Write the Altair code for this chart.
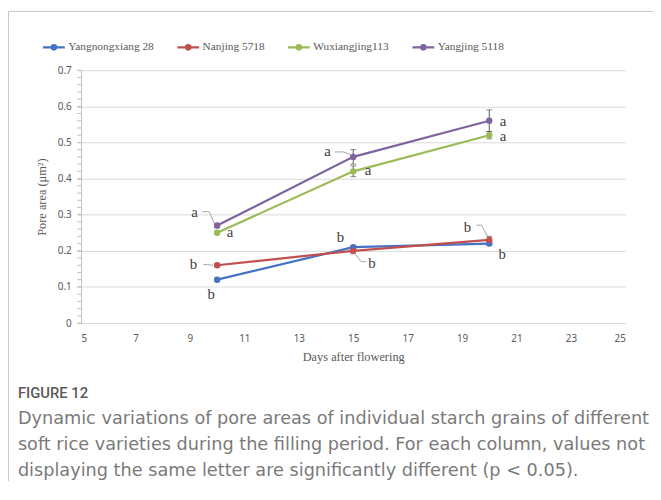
import altair as alt
import pandas as pd

# ---- data ----
varieties = ["Yangnongxiang 28", "Nanjing 5718", "Wuxiangjing113", "Yangjing 5118"]
colors = ["#4472C4", "#C0504D", "#9BBB59", "#8064A2"]
days = [10, 15, 20]
yangnongxiang28 = [0.12, 0.21, 0.22]
nanjing5718 = [0.16, 0.20, 0.23]
wuxiangjing113 = [0.25, 0.42, 0.52]
yangjing5118 = [0.27, 0.46, 0.56]
err_yangnongxiang28 = [0.004, 0.004, 0.005]
err_nanjing5718 = [0.004, 0.008, 0.01]
err_wuxiangjing113 = [0.004, 0.015, 0.01]
err_yangjing5118 = [0.006, 0.02, 0.03]
let_yangnongxiang28 = ["b", "b", "b"]
let_nanjing5718 = ["b", "b", "b"]
let_wuxiangjing113 = ["a", "a", "a"]
let_yangjing5118 = ["a", "a", "a"]
x_ticks = [5, 7, 9, 11, 13, 15, 17, 19, 21, 23, 25]
y_major = [0, 0.1, 0.2, 0.3, 0.4, 0.5, 0.6, 0.7]
y_minor = [round(i * 0.02, 2) for i in range(36)]
x_title = "Days after flowering"
y_title = "Pore area (μm²)"
fig_label = "FIGURE 12"
caption_lines = [
    "Dynamic variations of pore areas of individual starch grains of different",
    "soft rice varieties during the filling period. For each column, values not",
    "displaying the same letter are significantly different (p < 0.05).",
]

vals = [yangnongxiang28, nanjing5718, wuxiangjing113, yangjing5118]
errs = [err_yangnongxiang28, err_nanjing5718, err_wuxiangjing113, err_yangjing5118]
lets = [let_yangnongxiang28, let_nanjing5718, let_wuxiangjing113, let_yangjing5118]
rows = []
for v, vs, es, ls in zip(varieties, vals, errs, lets):
    for d, y, e, l in zip(days, vs, es, ls):
        rows.append({"variety": v, "day": d, "value": y, "lo": y - e, "hi": y + e, "letter": l})
df = pd.DataFrame(rows)

W, H = 551, 256
PL, PT, PR, PB = 74, 60, 28, 160
SERIF = "Liberation Serif"
SANS = "Noto Sans"
GRAY = "#595959"

xs = alt.Scale(domain=[5, 25], nice=False)
ys = alt.Scale(domain=[0, 0.7], nice=False)

xaxis = alt.Axis(values=x_ticks, grid=False, ticks=False, domainColor="#D9D9D9",
                 labelFont=SANS, labelFontSize=10, labelColor=GRAY, labelPadding=11,
                 titleFont=SERIF, titleFontSize=12.5, titleFontWeight="normal",
                 titleColor=GRAY, titlePadding=7)
yaxis = alt.Axis(values=y_major, format=".1~f", tickSize=4, tickColor="#BFBFBF",
                 domainColor="#BFBFBF", grid=True, gridColor="#D9D9D9",
                 labelFont=SANS, labelFontSize=10, labelColor=GRAY, labelPadding=6,
                 titleFont=SERIF, titleFontSize=12.5, titleFontWeight="normal",
                 titleColor=GRAY, titlePadding=9)


def XE(field):
    return alt.X(f"{field}:Q", scale=xs, axis=xaxis, title=x_title)


def YE(field):
    return alt.Y(f"{field}:Q", scale=ys, axis=yaxis, title=y_title)


legend = alt.Legend(title=None, orient="none", direction="horizontal",
                    legendX=-40, legendY=-36, columnPadding=19,
                    symbolType="M-1,0L1,0M0.2,0A0.2,0.2,0,1,1,-0.2,0A0.2,0.2,0,1,1,0.2,0",
                    symbolSize=484, symbolStrokeWidth=2.25, labelOffset=2,
                    labelFont=SERIF, labelFontSize=11.5, labelColor=GRAY)
cscale = alt.Scale(domain=varieties, range=colors)

base = alt.Chart(df)
lines = base.mark_line(strokeWidth=2.25).encode(
    x=XE("day"), y=YE("value"), color=alt.Color("variety:N", scale=cscale, sort=varieties, legend=legend))
minor = alt.Chart(pd.DataFrame({"v": y_minor})).mark_rule(color="#BFBFBF", strokeWidth=1).encode(
    y=YE("v"), x=alt.value(-4), x2=alt.value(0))
ebar = base.mark_rule(color=GRAY, strokeWidth=1).encode(x=XE("day"), y=YE("lo"), y2="hi:Q")
cap_lo = base.mark_tick(color=GRAY, orient="horizontal", size=6, thickness=1).encode(
    x=XE("day"), y=YE("lo"))
cap_hi = base.mark_tick(color=GRAY, orient="horizontal", size=6, thickness=1).encode(
    x=XE("day"), y=YE("hi"))
points = base.mark_circle(size=42, opacity=1).encode(
    x=XE("day"), y=YE("value"),
    color=alt.Color("variety:N", scale=cscale, sort=varieties, legend=legend))

layers = [lines, minor, ebar, cap_lo, cap_hi, points]

# letter labels: (variety index, day, dx, dy)
label_specs = [
    (3, 10, -23, -9), (2, 10, 13, 4), (1, 10, -24, 4), (0, 10, -6, 20),
    (3, 15, -26, -1), (2, 15, 15, 4), (0, 15, -13, -5), (1, 15, 19, 17),
    (3, 20, 14, 5), (2, 20, 14, 6), (1, 20, -22, -8), (0, 20, 13, 16),
]
for vi, d, dx, dy in label_specs:
    layers.append(
        base.transform_filter(f"datum.variety == '{varieties[vi]}' && datum.day == {d}")
        .mark_text(dx=dx, dy=dy, font=SERIF, fontSize=15, color="#404040", baseline="alphabetic")
        .encode(x=XE("day"), y=YE("value"), text="letter:N"))

# leader lines: (variety index, day, pixel points relative to the marker)
leaders = [
    (3, 10, [(-15, -14), (-8, -14), (-3, -2)]),
    (1, 10, [(-14, -1), (-4, 0)]),
    (3, 15, [(-19, -5), (-10, -5), (-2, -2)]),
    (1, 15, [(1, 2), (8, 11), (13, 11)]),
    (1, 20, [(-13, -15), (-8, -15), (-2, -4)]),
]
for vi, d, pts in leaders:
    sub = base.transform_filter(f"datum.variety == '{varieties[vi]}' && datum.day == {d}")
    for (ax, ay), (bx, by) in zip(pts[:-1], pts[1:]):
        layers.append(sub.mark_rule(color="#A6A6A6", strokeWidth=1,
                                    xOffset=ax, yOffset=ay, x2Offset=bx, y2Offset=by)
                      .encode(x=XE("day"), y=YE("value"), x2="day:Q", y2="value:Q"))

# frame lines of the figure box
frame = pd.DataFrame({"k": [0]})
layers.append(alt.Chart(frame).mark_rule(color="#C6C6C6", strokeWidth=1).encode(
    x=alt.value(-PL + 0.5), x2=alt.value(W + PR), y=alt.value(-PT + 0.5)))
layers.append(alt.Chart(frame).mark_rule(color="#C6C6C6", strokeWidth=1).encode(
    x=alt.value(-PL + 0.5), y=alt.value(-PT + 0.5), y2=alt.value(H + PB)))

# caption
layers.append(alt.Chart(pd.DataFrame({"t": [fig_label]})).mark_text(
    align="left", baseline="middle", font="Roboto", fontSize=15, fontWeight=500, color="#595959"
).encode(x=alt.value(-64), y=alt.value(327), text="t:N"))
for i, line in enumerate(caption_lines):
    layers.append(alt.Chart(pd.DataFrame({"t": [line]})).mark_text(
        align="left", baseline="middle", font="DejaVu Sans", fontSize=17.9, color="#7A7A7A"
    ).encode(x=alt.value(-64), y=alt.value(353 + 26.5 * i), text="t:N"))

chart = alt.layer(*layers).properties(
    width=W, height=H,
    padding={"left": PL, "top": PT, "right": PR, "bottom": PB},
    autosize=alt.AutoSizeParams(type="none"),
    background="white",
).configure_view(stroke=None)

chart.save("out.html", embed_options={"renderer": "svg", "actions": False})
